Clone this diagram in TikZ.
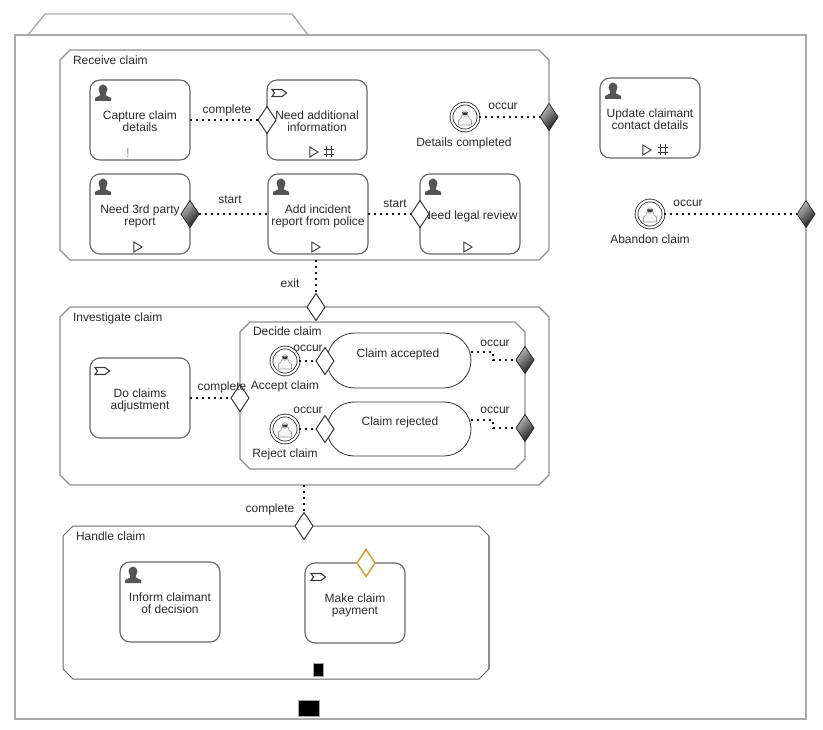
\documentclass[tikz,border=0pt]{standalone}
\usepackage{fontspec}
\setmainfont{Liberation Sans}
\usetikzlibrary{shapes.geometric,shapes.misc}
\definecolor{edge}{HTML}{666666}
\definecolor{stageline}{HTML}{8E8E8E}
\definecolor{caseline}{HTML}{ABABAB}
\definecolor{ink}{HTML}{2A2A2A}
\definecolor{icon}{HTML}{555555}
\definecolor{gold}{HTML}{C8A02E}
\newcommand{\stageoutline}[2][]{%
  \draw[stageedge,#1] ([xshift=10pt]#2.north west) -- ([xshift=-10pt]#2.north east) -- ([yshift=-10pt]#2.north east)
    -- ([yshift=10pt]#2.south east) -- ([xshift=-10pt]#2.south east) -- ([xshift=10pt]#2.south west)
    -- ([yshift=10pt]#2.south west) -- ([yshift=-10pt]#2.north west) -- cycle;}
\newcommand{\tasklines}[1]{\raisebox{-3pt}[\height][\depth]{\begin{tabular}{@{}c@{}}#1\end{tabular}}}
\tikzset{
  x=1pt,y=-1pt,
  every node/.style={font=\fontsize{12}{12}\selectfont,text=ink,inner sep=0pt,outer sep=0pt},
  lab/.style={align=center,yshift=-0.8pt},
  task/.style={draw=edge,line width=1.1pt,rounded corners=10pt,minimum width=100pt,minimum height=80pt,fill=white},
  stage/.style={rectangle},
  stageedge/.style={draw=stageline,line width=1.3pt,fill=white},
  whited/.style={diamond,draw=black!85,line width=0.9pt,fill=white,minimum width=18pt,minimum height=27pt},
  darkd/.style={diamond,draw=black!85,line width=0.7pt,left color=black!25,right color=black!90,shading angle=45,minimum width=18pt,minimum height=27pt},
  golddiam/.style={diamond,draw=gold,line width=1.5pt,fill=white,minimum width=18pt,minimum height=27pt},
  evt/.style={circle,draw=black!85,line width=0.8pt,double=white,double distance=2pt,minimum size=27pt,fill=white},
  mile/.style={rounded rectangle,draw=black!80,line width=0.8pt,fill=white},
  conn/.style={draw=black!90,line width=1.9pt,dash pattern=on 2.2pt off 3.8pt},
  blk/.style={draw=black!35,line width=0.7pt,fill=black},
  usericon/.pic={
    \fill[icon] (0,-3.5) circle[x radius=4.5pt,y radius=5pt];
    \fill[icon] (-3,0) -- (3,0) -- (3,2.5) -- (8,5) -- (8,8) -- (-8,8) -- (-8,5) -- (-3,2.5) -- cycle;
  },
  tagicon/.pic={
    \draw[icon!70!black,line width=1.1pt] (-7,-3.5) -- (3,-3.5) -- (7.5,0) -- (3,3.5) -- (-7,3.5) -- (-4.5,0) -- cycle;
  },
  playicon/.pic={
    \draw[icon!70!black,line width=0.9pt] (-4.2,-5) -- (4.2,0) -- (-4.2,5) -- cycle;
  },
  hashicon/.pic={
    \draw[icon!70!black,line width=0.9pt] (-2.5,-5.5) -- (-2.5,5.5) (2.5,-5.5) -- (2.5,5.5) (-5,-2.5) -- (5,-2.5) (-5,2.5) -- (5,2.5);
  },
  personicon/.pic={
    \draw[black!40,line width=0.6pt,fill=black!4] (-3,-2) -- (3,-2) -- (4,1) -- (6.5,3) -- (6.5,8) -- (-6.5,8) -- (-6.5,3) -- (-4,1) -- cycle;
    \draw[black!40,line width=0.5pt,fill=black!4] (0,-3.5) circle[radius=2.8pt];
    \fill[black!80] (-2.8,-4.5) arc[start angle=180,end angle=360,radius=2.8pt] -- cycle;
  }
}
\begin{document}
\begin{tikzpicture}
\useasboundingbox (0,0) rectangle (823,730);
\fill[white] (0,0) rectangle (823,730);
% case
\draw[caseline,line width=1.4pt] (28,35) -- (45,14) -- (292,14) -- (308,35);
\node[draw=caseline,line width=1.4pt,minimum width=791pt,minimum height=684pt] (casebox) at (410.5,377) {};
% stages
\node[stage,minimum width=489pt,minimum height=210pt] (receive) at (304.5,155) {};
\node[stage,minimum width=489pt,minimum height=178pt] (investigate) at (304.5,396) {};
\node[stage,minimum width=285pt,minimum height=147pt] (decide) at (382.5,395.5) {};
\node[stage,minimum width=426pt,minimum height=153pt] (handle) at (276,602.5) {};
\stageoutline{receive}
\stageoutline{investigate}
\stageoutline{decide}
\stageoutline[draw=edge,line width=1pt]{handle}
\draw[stageline,line width=1.3pt] ([yshift=-10pt]handle.north east) -- ([yshift=10pt]handle.south east);
\node[lab,anchor=west] (lreceive) at (73,59.5) {Receive claim};
\node[lab,anchor=west] (linvestigate) at (73,317.5) {Investigate claim};
\node[lab,anchor=west] (ldecide) at (253,330.5) {Decide claim};
\node[lab,anchor=west] (lhandle) at (76,535.5) {Handle claim};
% tasks
\node[task] (capture) at (140,120) {\tasklines{Capture claim\\details}};
\node[task] (additional) at (317,120) {\tasklines{Need additional\\information}};
\node[task] (third) at (140,214) {\tasklines{Need 3rd party\\report}};
\node[task] (incident) at (318,214) {\tasklines{Add incident\\report from police}};
\node[task] (legal) at (470,214) {\tasklines{Need legal review}};
\node[task] (update) at (650,118) {\tasklines{Update claimant\\contact details}};
\node[task] (adjust) at (140,398) {\tasklines{Do claims\\adjustment}};
\node[task] (inform) at (170,602) {\tasklines{Inform claimant\\of decision}};
\node[task] (payment) at (355,603) {\tasklines{Make claim\\payment}};
% task markers
\foreach \px/\py in {103/93,103/187,281/187,433/187,613/91,133/575}
  \pic at (\px,\py) {usericon};
\foreach \px/\py in {279/93,102/371,318/577}
  \pic at (\px,\py) {tagicon};
\foreach \px/\py in {314/152,138/247,316/247,468/247,647/150}
  \pic at (\px,\py) {playicon};
\foreach \px/\py in {329/152,663/150}
  \pic at (\px,\py) {hashicon};
\node[text=black!40,font=\fontsize{13}{13}\selectfont] (bang) at (128,153) {!};
% milestones
\node[mile,minimum width=144pt,minimum height=55pt] (accepted) at (399,360.5) {};
\node[mile,minimum width=144pt,minimum height=54pt] (rejected) at (399,429) {};
\node[lab] (taccepted) at (398,354) {Claim accepted};
\node[lab] (trejected) at (400,422) {Claim rejected};
% events
\node[evt] (evdetails) at (465,117) {};
\node[evt] (evabandon) at (650,214) {};
\node[evt] (evaccept) at (285,361) {};
\node[evt] (evreject) at (285,429) {};
\foreach \px/\py in {465/117,650/214,285/361,285/429}
  \pic at (\px,\py) {personicon};
\node[lab] (cdetails) at (464,143) {Details completed};
\node[lab] (cabandon) at (650,238.5) {Abandon claim};
\node[lab] (caccept) at (285,386) {Accept claim};
\node[lab] (creject) at (285,454) {Reject claim};
% diamonds
\node[whited] (dcomplete) at (267,120) {};
\node[darkd] (dthird) at (190,214) {};
\node[whited] (dlegal) at (420,214) {};
\node[darkd] (ddetails) at (549,117) {};
\node[darkd] (dabandon) at (806,214) {};
\node[whited] (dexit) at (316,307) {};
\node[whited] (ddecide) at (240,398) {};
\node[whited] (dacc) at (325,361) {};
\node[whited] (drej) at (325,429) {};
\node[darkd] (dacco) at (525,360) {};
\node[darkd] (drejo) at (525,428) {};
\node[whited] (dhandle) at (304,526) {};
\node[golddiam] (dgold) at (366,563) {};
% connectors
\draw[conn] (capture.east) -- (dcomplete.west);
\draw[conn] (dthird.east) -- (incident.west);
\draw[conn] (incident.east) -- (dlegal.west);
\draw[conn] (evdetails.east) -- (ddetails.west);
\draw[conn] (evabandon.east) -- (dabandon.west);
\draw[conn] (receive.south -| dexit.north) -- (dexit.north);
\draw[conn] (investigate.south -| dhandle.north) -- (dhandle.north);
\draw[conn] (adjust.east) -- (ddecide.west);
\draw[conn] (evaccept.east) -- (dacc.west);
\draw[conn] (evreject.east) -- (drej.west);
\coordinate (acs) at (471,352);
\coordinate (rjs) at (471,420);
\draw[conn] (acs) -- (493,352) -- (493,360) -- (dacco.west);
\draw[conn] (rjs) -- (493,420) -- (493,428) -- (drejo.west);
% connector labels
\node[lab] (lcomplete) at (227,110) {complete};
\node[lab] (lstarta) at (230,199) {start};
\node[lab] (lstartb) at (395,203) {start};
\node[lab] (loccura) at (503,106) {occur};
\node[lab] (loccurb) at (688,203) {occur};
\node[lab] (lexit) at (290,282) {exit};
\node[lab] (lcompleteb) at (222,386.5) {complete};
\node[lab] (loccurc) at (308,348) {occur};
\node[lab] (loccurd) at (308,410) {occur};
\node[lab] (loccure) at (495,342.5) {occur};
\node[lab] (loccurf) at (495,409.5) {occur};
\node[lab] (lcompletec) at (270,508.5) {complete};
% collapsed blocks
\node[blk,minimum width=10pt,minimum height=13pt] (blka) at (318,670) {};
\node[blk,minimum width=21pt,minimum height=16pt] (blkb) at (308.5,708) {};
\end{tikzpicture}
\end{document}
